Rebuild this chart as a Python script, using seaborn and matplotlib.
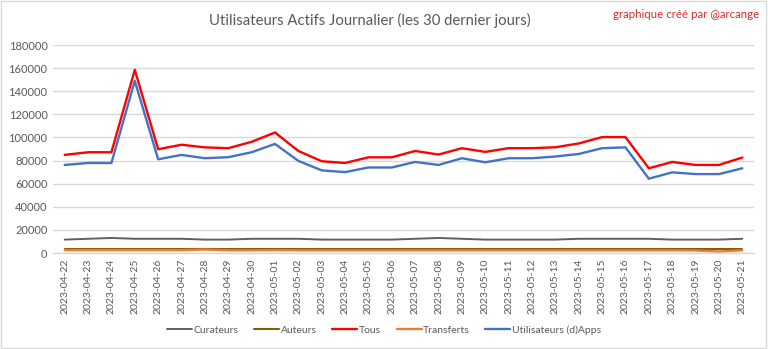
import matplotlib
matplotlib.use("Agg")
import matplotlib.pyplot as plt
import seaborn as sns
import pandas as pd

# Daily active users, last 30 days
dates = pd.date_range("2023-04-22", "2023-05-21", freq="D").strftime("%Y-%m-%d").tolist()

curateurs = [11600, 12300, 13000, 12300, 12300, 12300, 11600, 11600, 12300, 12300,
             12300, 11600, 11600, 11600, 11600, 12300, 13000, 12300, 11600, 11600,
             11600, 11600, 12300, 12300, 12300, 12300, 11600, 11600, 11600, 12300]
auteurs = [3700, 3700, 3700, 3700, 3700, 3700, 3700, 3700, 3700, 3700,
           3700, 3700, 3700, 3700, 3700, 3700, 3700, 3700, 3700, 3700,
           3700, 3700, 3700, 3700, 3700, 3700, 3700, 3700, 3700, 3700]
tous = [84900, 87200, 87200, 158500, 89800, 93700, 91400, 90700, 96200, 104300,
        88300, 79400, 77900, 82800, 82800, 88300, 85200, 90700, 87500, 90700,
        90700, 91500, 94800, 100300, 100300, 73300, 78800, 76200, 76200, 82600]
transferts = [2500, 2500, 2500, 2500, 2500, 2500, 3000, 2300, 2300, 2500,
              2300, 2300, 2300, 2300, 2300, 2300, 2300, 2300, 2300, 2300,
              2300, 2300, 2300, 2300, 2300, 2300, 2300, 2200, 1300, 2300]
dapps = [76200, 77900, 77900, 149000, 81100, 84900, 82000, 82900, 87200, 94400,
         79700, 71500, 70000, 74000, 74000, 78800, 76200, 82000, 78500, 82000,
         82000, 83500, 85700, 90700, 91400, 64300, 69800, 68300, 68300, 73300]

series_names = ["Curateurs", "Auteurs", "Tous", "Transferts", "Utilisateurs (d)Apps"]
series_values = [curateurs, auteurs, tous, transferts, dapps]
palette = {
    "Curateurs": "#5f5f5f",
    "Auteurs": "#7f6000",
    "Tous": "#ff0000",
    "Transferts": "#ed7d31",
    "Utilisateurs (d)Apps": "#4472c4",
}
widths = {"Curateurs": 1.4, "Auteurs": 1.5, "Tous": 1.7, "Transferts": 1.7,
          "Utilisateurs (d)Apps": 1.7}

df = pd.DataFrame({
    "date": dates * len(series_names),
    "idx": list(range(len(dates))) * len(series_names),
    "serie": [n for n in series_names for _ in dates],
    "valeur": [v for vals in series_values for v in vals],
})

sns.set_theme(style="white")
plt.rcParams["font.family"] = ["Lato", "DejaVu Sans"]

fig = plt.figure(figsize=(7.68, 3.49), dpi=100)
ax = fig.add_axes([53 / 768, 1 - 253 / 349, 701 / 768, 208 / 349])

sns.lineplot(data=df, x="idx", y="valeur", hue="serie", hue_order=series_names,
             palette=palette, ax=ax, legend=False, sort=False)
for line, name in zip(ax.get_lines(), series_names):
    line.set_linewidth(widths[name])

ax.set_xlim(-0.5, len(dates) - 0.5)
ax.set_ylim(0, 180000)
ax.set_yticks(range(0, 180001, 20000))
ax.set_yticklabels([str(v) for v in range(0, 180001, 20000)], fontsize=8, color="#595959")
ax.set_xticks(range(len(dates)))
ax.set_xticklabels(dates, rotation=90, fontsize=7.5, color="#595959")
ax.tick_params(axis="both", length=0, pad=4)
ax.grid(axis="y", color="#d9d9d9", linewidth=1.0)
ax.set_axisbelow(True)
for s in ["top", "right", "left"]:
    ax.spines[s].set_visible(False)
ax.spines["bottom"].set_color("#d9d9d9")
ax.spines["bottom"].set_linewidth(1.0)
ax.set_xlabel("")
ax.set_ylabel("")

handles = [plt.Line2D([], [], color=palette[n], linewidth=widths[n]) for n in series_names]
fig.legend(handles, series_names, loc="center", bbox_to_anchor=(0.5, 1 - 330 / 349),
           ncol=5, frameon=False, fontsize=7.5, handlelength=2.4, handletextpad=0.15,
           columnspacing=1.5, labelcolor="#595959")

fig.text(0.482, 1 - 20 / 349, "Utilisateurs Actifs Journalier (les 30 dernier jours)",
         ha="center", va="center", fontsize=10.7, color="#595959")
fig.text(0.988, 1 - 14 / 349, "graphique créé par @arcange",
         ha="right", va="center", fontsize=8.3, color="#d92b2b")

# Chart area border
fig.patches.append(plt.Rectangle((0.001, 0.002), 0.997, 0.995, transform=fig.transFigure,
                                 fill=False, edgecolor="#d9d9d9", linewidth=1.0))

fig.savefig("out.png", dpi=100)
